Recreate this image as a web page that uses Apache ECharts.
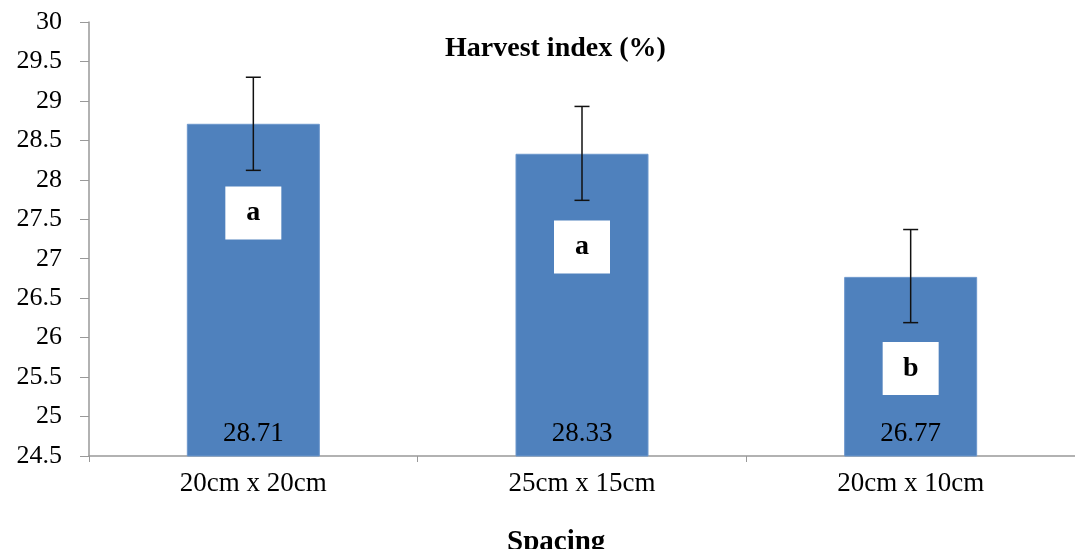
<!DOCTYPE html>
<html lang="en">
<head>
    <meta charset="utf-8">
    <title>Harvest index</title>
    <script type="text/javascript" src="https://cdn.jsdelivr.net/npm/echarts@6/dist/echarts.min.js"></script>
    <style>
        html, body { margin: 0; padding: 0; background: #fff; }
    </style>
</head>
<body>
<div id="main" style="width: 1075px;height:549px;"></div>
<script>
    // data
    var categories = ['20cm x 20cm', '25cm x 15cm', '20cm x 10cm'];
    var harvestIndex = [28.71, 28.33, 26.77];
    var errLow = [28.12, 27.74, 26.19];
    var errHigh = [29.30, 28.93, 27.37];
    var letters = ['a', 'a', 'b'];
    var letterAt = [27.58, 27.15, 25.61];

    var serif = '"Liberation Serif", "Times New Roman", serif';

    var chartDom = document.getElementById('main');
    var myChart = echarts.init(chartDom);

    var errData = categories.map(function (c, i) {
        return [i, errLow[i], errHigh[i]];
    });
    var letterData = categories.map(function (c, i) {
        return [i, letterAt[i]];
    });

    var option = {
        animation: false,
        title: [
            {
                text: 'Harvest index (%)',
                left: 440,
                top: 30,
                textStyle: { fontFamily: serif, fontWeight: 'bold', fontSize: 28, color: '#000' }
            },
            {
                text: 'Spacing',
                left: 502,
                top: 523,
                textStyle: { fontFamily: serif, fontWeight: 'bold', fontSize: 29, color: '#000' }
            }
        ],
        grid: { left: 89, right: 0, top: 22, bottom: 93 },
        xAxis: {
            type: 'category',
            data: categories,
            axisLine: { lineStyle: { color: '#999', width: 1.5 } },
            axisTick: { show: true, length: 6, lineStyle: { color: '#999' } },
            axisLabel: { fontFamily: serif, fontSize: 27, color: '#000', margin: 14 }
        },
        yAxis: {
            type: 'value',
            min: 24.5,
            max: 30,
            interval: 0.5,
            axisLine: { show: true, lineStyle: { color: '#999', width: 1.5 } },
            axisTick: { show: true, length: 9, lineStyle: { color: '#999' } },
            splitLine: { show: false },
            axisLabel: { fontFamily: serif, fontSize: 26, color: '#000', margin: 27 }
        },
        series: [
            {
                type: 'bar',
                data: harvestIndex,
                barWidth: 133,
                itemStyle: { color: '#4F81BD', borderColor: '#6d97cc', borderWidth: 1 },
                label: {
                    show: true,
                    position: 'insideBottom',
                    distance: 9,
                    fontFamily: serif,
                    fontSize: 27,
                    color: '#000'
                }
            },
            {
                type: 'custom',
                data: errData,
                z: 5,
                renderItem: function (params, api) {
                    var hi = api.coord([api.value(0), api.value(2)]);
                    var lo = api.coord([api.value(0), api.value(1)]);
                    var w = 7.5;
                    var st = { stroke: '#111', lineWidth: 1.5 };
                    return {
                        type: 'group',
                        children: [
                            { type: 'line', shape: { x1: hi[0], y1: hi[1], x2: lo[0], y2: lo[1] }, style: st },
                            { type: 'line', shape: { x1: hi[0] - w, y1: hi[1], x2: hi[0] + w, y2: hi[1] }, style: st },
                            { type: 'line', shape: { x1: lo[0] - w, y1: lo[1], x2: lo[0] + w, y2: lo[1] }, style: st }
                        ]
                    };
                }
            },
            {
                type: 'scatter',
                data: letterData,
                z: 6,
                symbol: 'rect',
                symbolSize: [56, 53],
                itemStyle: { color: '#fff', opacity: 1 },
                label: {
                    show: true,
                    position: 'inside',
                    formatter: function (p) { return letters[p.dataIndex]; },
                    fontFamily: serif,
                    fontWeight: 'bold',
                    fontSize: 28,
                    color: '#000'
                }
            }
        ]
    };
    myChart.setOption(option);
</script>
</body>
</html>
